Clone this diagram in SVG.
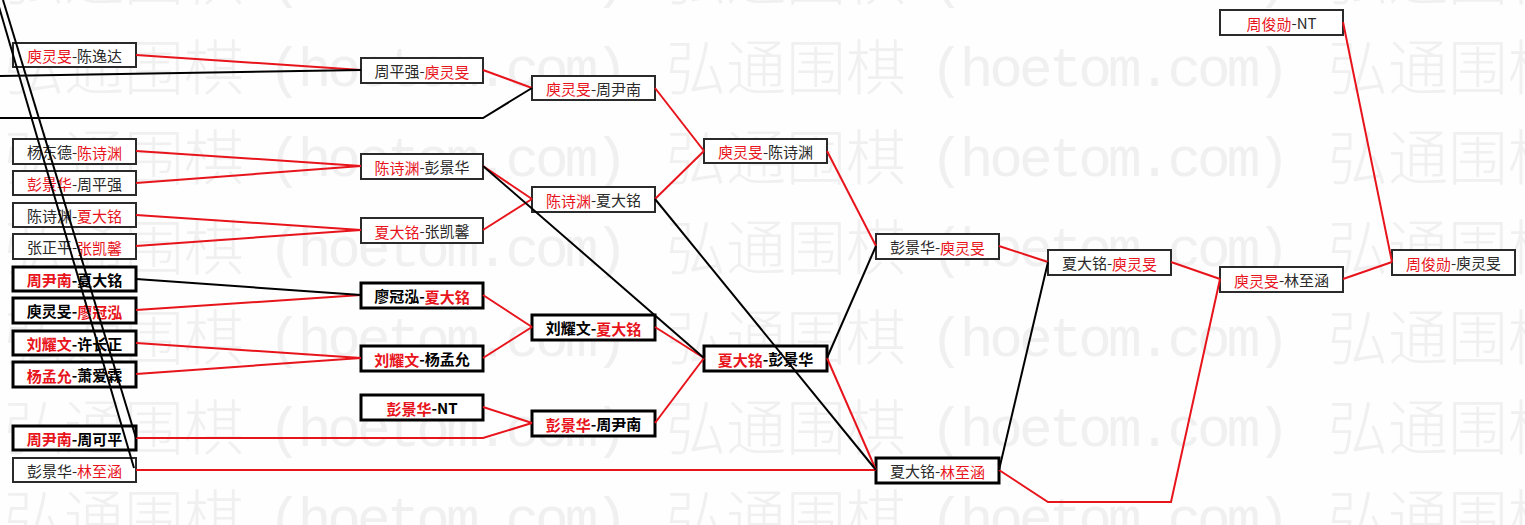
<svg xmlns="http://www.w3.org/2000/svg" xmlns:xlink="http://www.w3.org/1999/xlink" width="1525" height="525" viewBox="0 0 1525 525">
<style>
.bg{fill:#fefefe}
.wmc{font-family:"Noto Sans CJK SC",sans-serif;font-size:60px;font-weight:300;fill:#f0f0f0}
.wma{font-family:"Liberation Mono",monospace;font-size:56px;fill:#f0f0f0}
.box{fill:#ffffff;stroke:#2a2a2a;stroke-width:2}
.bb{fill:#ffffff;stroke:#000000;stroke-width:3}
.t{font-family:"Noto Sans CJK SC",sans-serif;font-size:15px;fill:#2a2a2a;text-anchor:middle;dominant-baseline:central}
.tb{font-weight:bold;fill:#000000}
.r{fill:#e8141c}
.lr{stroke:#e8141c;stroke-width:2;fill:none}
.lk{stroke:#000000;stroke-width:2;fill:none}
</style>
<defs>
<g id="wmu" fill="#f0f0f0"><text class="wmc" x="0" y="0">弘通围棋</text><text class="wma" x="264" y="-4" textLength="360" lengthAdjust="spacing">(hoetom.com)</text></g>
</defs>
<rect class="bg" x="0" y="0" width="1525" height="525"/>
<g id="watermark" fill="#f0f0f0">
<use xlink:href="#wmu" x="4" y="0"/><use xlink:href="#wmu" x="666" y="0"/><use xlink:href="#wmu" x="1328" y="0"/>
<use xlink:href="#wmu" x="4" y="90"/><use xlink:href="#wmu" x="666" y="90"/><use xlink:href="#wmu" x="1328" y="90"/>
<use xlink:href="#wmu" x="4" y="180"/><use xlink:href="#wmu" x="666" y="180"/><use xlink:href="#wmu" x="1328" y="180"/>
<use xlink:href="#wmu" x="4" y="270"/><use xlink:href="#wmu" x="666" y="270"/><use xlink:href="#wmu" x="1328" y="270"/>
<use xlink:href="#wmu" x="4" y="360"/><use xlink:href="#wmu" x="666" y="360"/><use xlink:href="#wmu" x="1328" y="360"/>
<use xlink:href="#wmu" x="4" y="450"/><use xlink:href="#wmu" x="666" y="450"/><use xlink:href="#wmu" x="1328" y="450"/>
<use xlink:href="#wmu" x="4" y="540"/><use xlink:href="#wmu" x="666" y="540"/><use xlink:href="#wmu" x="1328" y="540"/>
</g>

<g id="n1"><rect class="box" x="13" y="43" width="123" height="24"/><text class="t" x="74.5" y="55"><tspan class="r">庾灵旻</tspan>-陈逸达</text></g>
<g id="n2"><rect class="box" x="13" y="139" width="123" height="25"/><text class="t" x="74.5" y="151.5">杨东德-<tspan class="r">陈诗渊</tspan></text></g>
<g id="n3"><rect class="box" x="13" y="171" width="123" height="24"/><text class="t" x="74.5" y="183"><tspan class="r">彭景华</tspan>-周平强</text></g>
<g id="n4"><rect class="box" x="13" y="203" width="123" height="24"/><text class="t" x="74.5" y="215">陈诗渊-<tspan class="r">夏大铭</tspan></text></g>
<g id="n5"><rect class="box" x="13" y="234" width="123" height="25"/><text class="t" x="74.5" y="246.5">张正平-<tspan class="r">张凯馨</tspan></text></g>
<g id="n6"><rect class="bb" x="13" y="267" width="123" height="24"/><text class="t tb" x="74.5" y="279"><tspan class="r">周尹南</tspan>-夏大铭</text></g>
<g id="n7"><rect class="bb" x="13" y="298" width="123" height="25"/><text class="t tb" x="74.5" y="310.5">庾灵旻-<tspan class="r">廖冠泓</tspan></text></g>
<g id="n8"><rect class="bb" x="13" y="331" width="123" height="24"/><text class="t tb" x="74.5" y="343"><tspan class="r">刘耀文</tspan>-许长正</text></g>
<g id="n9"><rect class="bb" x="13" y="362" width="123" height="25"/><text class="t tb" x="74.5" y="374.5"><tspan class="r">杨孟允</tspan>-萧爱霖</text></g>
<g id="n10"><rect class="bb" x="13" y="426" width="123" height="24"/><text class="t tb" x="74.5" y="438"><tspan class="r">周尹南</tspan>-周可平</text></g>
<g id="n11"><rect class="box" x="13" y="458" width="123" height="24"/><text class="t" x="74.5" y="470">彭景华-<tspan class="r">林至涵</tspan></text></g>

<g id="n12"><rect class="box" x="361" y="58" width="122" height="25"/><text class="t" x="422" y="70.5">周平强-<tspan class="r">庾灵旻</tspan></text></g>
<g id="n13"><rect class="box" x="361" y="154" width="122" height="25"/><text class="t" x="422" y="166.5"><tspan class="r">陈诗渊</tspan>-彭景华</text></g>
<g id="n14"><rect class="box" x="361" y="218" width="122" height="25"/><text class="t" x="422" y="230.5"><tspan class="r">夏大铭</tspan>-张凯馨</text></g>
<g id="n15"><rect class="bb" x="361" y="283" width="122" height="25"/><text class="t tb" x="422" y="295.5">廖冠泓-<tspan class="r">夏大铭</tspan></text></g>
<g id="n16"><rect class="bb" x="361" y="346" width="122" height="25"/><text class="t tb" x="422" y="358.5"><tspan class="r">刘耀文</tspan>-杨孟允</text></g>
<g id="n17"><rect class="bb" x="361" y="395" width="122" height="25"/><text class="t tb" x="422" y="407.5"><tspan class="r">彭景华</tspan>-NT</text></g>

<g id="n18"><rect class="box" x="532" y="76" width="123" height="24"/><text class="t" x="593.5" y="88"><tspan class="r">庾灵旻</tspan>-周尹南</text></g>
<g id="n19"><rect class="box" x="532" y="187" width="123" height="25"/><text class="t" x="593.5" y="199.5"><tspan class="r">陈诗渊</tspan>-夏大铭</text></g>
<g id="n20"><rect class="bb" x="532" y="315" width="123" height="25"/><text class="t tb" x="593.5" y="327.5">刘耀文-<tspan class="r">夏大铭</tspan></text></g>
<g id="n21"><rect class="bb" x="532" y="411" width="123" height="25"/><text class="t tb" x="593.5" y="423.5"><tspan class="r">彭景华</tspan>-周尹南</text></g>

<g id="n22"><rect class="box" x="704" y="139" width="123" height="24"/><text class="t" x="765.5" y="151"><tspan class="r">庾灵旻</tspan>-陈诗渊</text></g>
<g id="n23"><rect class="bb" x="704" y="346" width="123" height="25"/><text class="t tb" x="765.5" y="358.5"><tspan class="r">夏大铭</tspan>-彭景华</text></g>

<g id="n24"><rect class="box" x="876" y="234" width="123" height="25"/><text class="t" x="937.5" y="246.5">彭景华-<tspan class="r">庾灵旻</tspan></text></g>
<g id="n25"><rect class="bb" x="876" y="458" width="123" height="25"/><text class="t" x="937.5" y="470.5">夏大铭-<tspan class="r">林至涵</tspan></text></g>

<g id="n26"><rect class="box" x="1048" y="250" width="123" height="25"/><text class="t" x="1109.5" y="262.5">夏大铭-<tspan class="r">庾灵旻</tspan></text></g>

<g id="n27"><rect class="box" x="1220" y="10" width="123" height="25"/><text class="t" x="1281.5" y="22.5"><tspan class="r">周俊勋</tspan>-NT</text></g>
<g id="n28"><rect class="box" x="1220" y="267" width="123" height="25"/><text class="t" x="1281.5" y="279.5"><tspan class="r">庾灵旻</tspan>-林至涵</text></g>

<g id="n29"><rect class="box" x="1392" y="250" width="123" height="25"/><text class="t" x="1453.5" y="262.5"><tspan class="r">周俊勋</tspan>-庾灵旻</text></g>

<g id="connectors">
<path class="lr" d="M136 55L361 70"/>
<path class="lr" d="M483 70L532 88"/>
<path class="lr" d="M136 151L361 166"/>
<path class="lr" d="M136 183L361 166"/>
<path class="lr" d="M136 215L361 230"/>
<path class="lr" d="M136 246L361 230"/>
<path class="lr" d="M136 310L361 295"/>
<path class="lr" d="M136 343L361 358"/>
<path class="lr" d="M136 374L361 358"/>
<path class="lr" d="M136 438L483 438L532 423"/>
<path class="lr" d="M136 470L876 470"/>
<path class="lr" d="M483 407L532 423"/>
<path class="lr" d="M483 166L532 199"/>
<path class="lr" d="M483 230L532 199"/>
<path class="lr" d="M483 295L532 327"/>
<path class="lr" d="M483 358L532 327"/>
<path class="lr" d="M655 88L704 151"/>
<path class="lr" d="M655 199L704 151"/>
<path class="lr" d="M655 327L704 358"/>
<path class="lr" d="M655 423L704 358"/>
<path class="lr" d="M827 151L876 246"/>
<path class="lr" d="M827 358L876 470"/>
<path class="lr" d="M999 246L1048 262"/>
<path class="lr" d="M999 470L1048 502L1171 502L1220 279"/>
<path class="lr" d="M1171 262L1220 279"/>
<path class="lr" d="M1343 279L1392 262"/>
<path class="lr" d="M1343 22L1392 262"/>
<path class="lk" d="M0 76L361 70"/>
<path class="lk" d="M0 118L483 118L532 88"/>
<path class="lk" d="M136 279L361 295"/>
<path class="lk" d="M483 166L704 358"/>
<path class="lk" d="M655 199L876 470"/>
<path class="lk" d="M827 358L876 246"/>
<path class="lk" d="M999 470L1048 262"/>
<path class="lk" d="M3 0L136 438"/>
<path class="lk" d="M-3 0L134 468"/>
</g>
</svg>
